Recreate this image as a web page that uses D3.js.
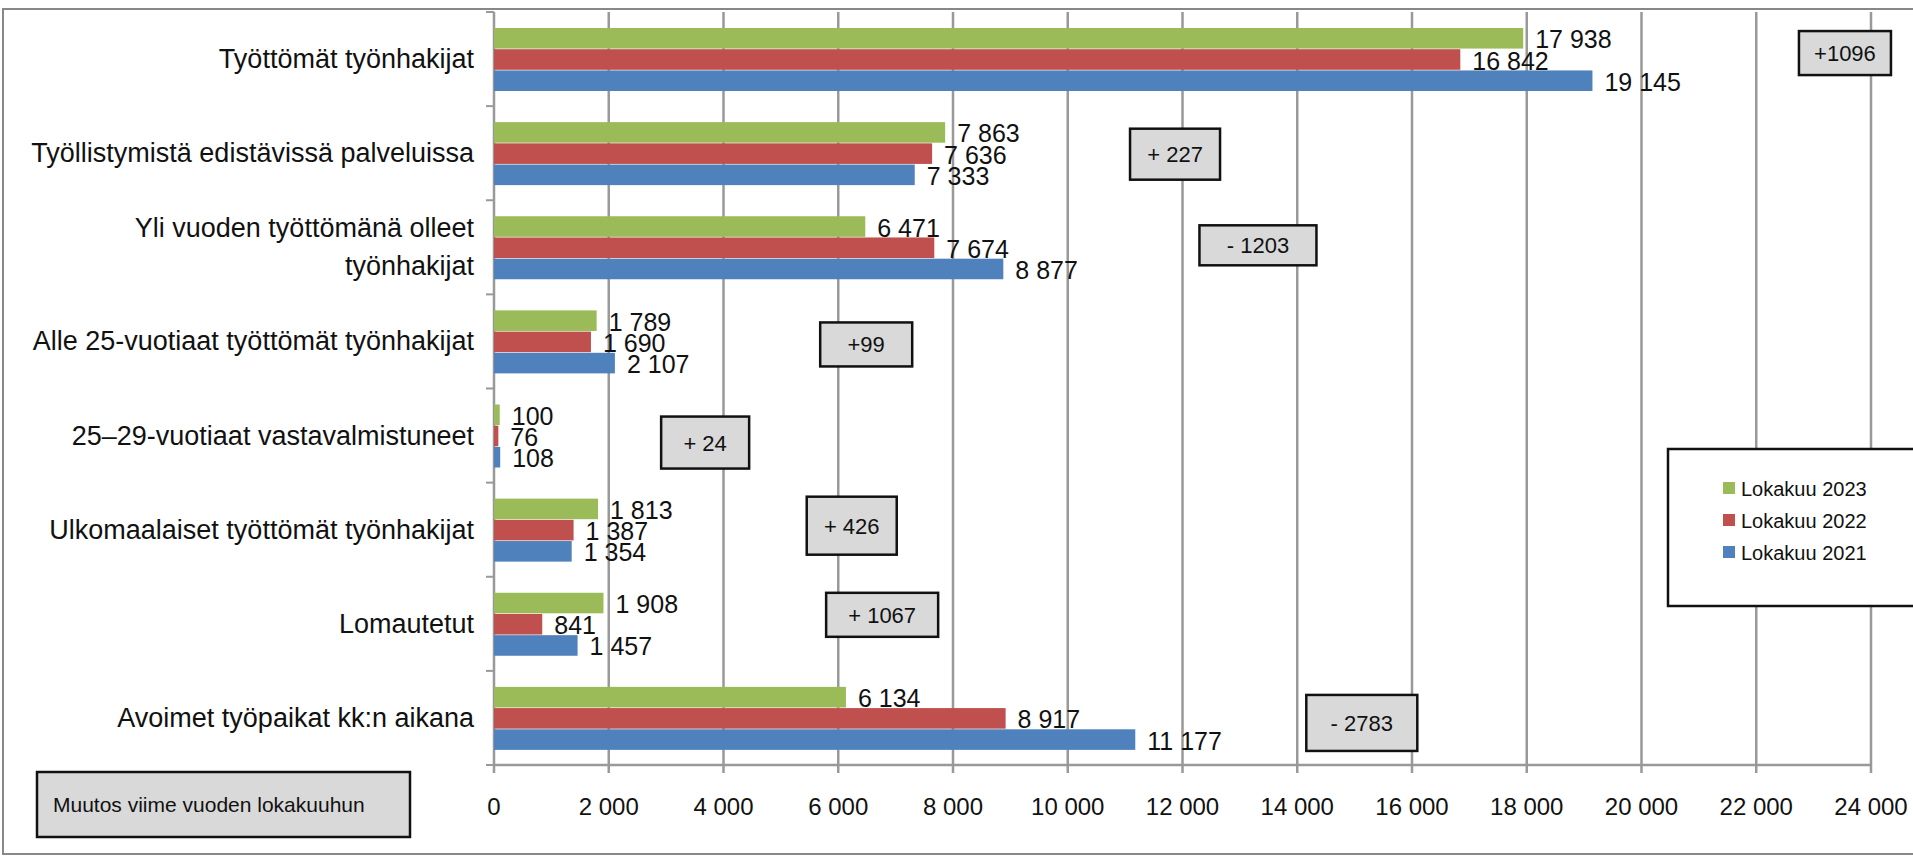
<!DOCTYPE html>
<html>
<head>
<meta charset="utf-8">
<script src="https://cdn.jsdelivr.net/npm/d3@7"></script>
<style>
  body { margin: 0; background: #fff; }
  text { font-family: "Liberation Sans Narrow", "Liberation Sans", sans-serif; fill: #111; }
</style>
</head>
<body>
<svg id="chart" width="1913" height="856"></svg>
<script>
const categories = [
    ['Työttömät työnhakijat'],
    ['Työllistymistä edistävissä palveluissa'],
    ['Yli vuoden työttömänä olleet', 'työnhakijat'],
    ['Alle 25-vuotiaat työttömät työnhakijat'],
    ['25–29-vuotiaat vastavalmistuneet'],
    ['Ulkomaalaiset työttömät työnhakijat'],
    ['Lomautetut'],
    ['Avoimet työpaikat kk:n aikana']
];
const series = ['Lokakuu 2023', 'Lokakuu 2022', 'Lokakuu 2021'];
const colors = ['#9BBB59', '#C0504D', '#4F81BD'];
const values2023 = [17938, 7863, 6471, 1789, 100, 1813, 1908, 6134];
const values2022 = [16842, 7636, 7674, 1690, 76, 1387, 841, 8917];
const values2021 = [19145, 7333, 8877, 2107, 108, 1354, 1457, 11177];
const changes = ['+1096', '+ 227', '- 1203', '+99', '+ 24', '+ 426', '+ 1067', '- 2783'];
// change box layout: centre (axis value), width, height, vertical offset (px)
const changeX = [23546, 11870, 13315, 6487, 3680, 6235, 6765, 15125];
const changeW = [92, 90, 117, 92, 88, 90, 112, 111];
const changeH = [44, 51, 40, 44, 52, 58, 44, 56];
const changeDy = [-6, 1, -2, 3, 7, -4, -9, 5];
const ticks = d3.range(0, 24001, 2000);

const svg = d3.select('#chart');
const fmt = v => d3.format(',')(v).replace(/,/g, ' ');

const x = d3.scaleLinear().domain([0, 24000]).range([494, 1871]);
const y = d3.scaleBand().domain(d3.range(categories.length)).range([12, 765]);
const inner = d3.scaleBand().domain(d3.range(3)).range([16, 79]).paddingInner(0.03);

// outer frame
svg.append('rect').attr('x', 3).attr('y', 9).attr('width', 1920).attr('height', 845)
    .attr('fill', 'none').attr('stroke', '#888').attr('stroke-width', 2);

// gridlines
svg.append('g').selectAll('line').data(ticks.slice(1)).join('line')
    .attr('x1', d => x(d)).attr('x2', d => x(d))
    .attr('y1', 12).attr('y2', 773)
    .attr('stroke', '#999').attr('stroke-width', 2.5);

// axis lines
svg.append('line').attr('x1', x(0)).attr('x2', x(24000)).attr('y1', 765).attr('y2', 765)
    .attr('stroke', '#999').attr('stroke-width', 2.5);
svg.append('line').attr('x1', x(0)).attr('x2', x(0)).attr('y1', 12).attr('y2', 773)
    .attr('stroke', '#999').attr('stroke-width', 2.5);
svg.append('g').selectAll('line').data(d3.range(categories.length + 1)).join('line')
    .attr('x1', x(0) - 8).attr('x2', x(0))
    .attr('y1', d => d < categories.length ? y(d) : 765).attr('y2', d => d < categories.length ? y(d) : 765)
    .attr('stroke', '#999').attr('stroke-width', 2);

// tick labels
svg.append('g').selectAll('text').data(ticks).join('text')
    .attr('x', d => x(d)).attr('y', 815)
    .attr('text-anchor', 'middle').attr('font-size', 24)
    .text(d => fmt(d));

// category labels
categories.forEach((lines, i) => {
    const cy = y(i) + y.bandwidth() / 2;
    const t = svg.append('text').attr('x', 474).attr('text-anchor', 'end').attr('font-size', 27);
    lines.forEach((l, j) => {
        t.append('tspan').attr('x', 474)
            .attr('y', cy + 9 + (j - (lines.length - 1) / 2) * 38).text(l);
    });
});

// bars
const allValues = [values2023, values2022, values2021];
allValues.forEach((vals, s) => {
    svg.append('g').selectAll('rect').data(vals).join('rect')
        .attr('x', x(0)).attr('y', (d, i) => y(i) + inner(s))
        .attr('width', d => x(d) - x(0)).attr('height', inner.bandwidth())
        .attr('fill', colors[s]);
    svg.append('g').selectAll('text').data(vals).join('text')
        .attr('x', d => x(d) + 12).attr('y', (d, i) => y(i) + inner(s) + inner.bandwidth() / 2 + 10)
        .attr('font-size', 25).text(d => fmt(d));
});

// change boxes
changes.forEach((c, i) => {
    const cx = x(changeX[i]);
    const cy = y(i) + y.bandwidth() / 2 + changeDy[i];
    const w = changeW[i], h = changeH[i];
    svg.append('rect').attr('x', cx - w / 2).attr('y', cy - h / 2).attr('width', w).attr('height', h)
        .attr('fill', '#D9D9D9').attr('stroke', '#111').attr('stroke-width', 2.5);
    svg.append('text').attr('x', cx).attr('y', cy + 8).attr('text-anchor', 'middle')
        .attr('font-size', 22).text(c);
});

// note box
svg.append('rect').attr('x', 37).attr('y', 772).attr('width', 373).attr('height', 65)
    .attr('fill', '#D9D9D9').attr('stroke', '#111').attr('stroke-width', 2.5);
svg.append('text').attr('x', 53).attr('y', 812).attr('font-size', 21).text('Muutos viime vuoden lokakuuhun');

// legend
svg.append('rect').attr('x', 1668).attr('y', 449).attr('width', 260).attr('height', 157)
    .attr('fill', '#fff').attr('stroke', '#111').attr('stroke-width', 2.5);
series.forEach((s, i) => {
    const ly = 490 + i * 32;
    svg.append('rect').attr('x', 1723).attr('y', ly - 8).attr('width', 12).attr('height', 12).attr('fill', colors[i]);
    svg.append('text').attr('x', 1741).attr('y', ly + 6).attr('font-size', 20).text(s);
});
</script>
</body>
</html>
